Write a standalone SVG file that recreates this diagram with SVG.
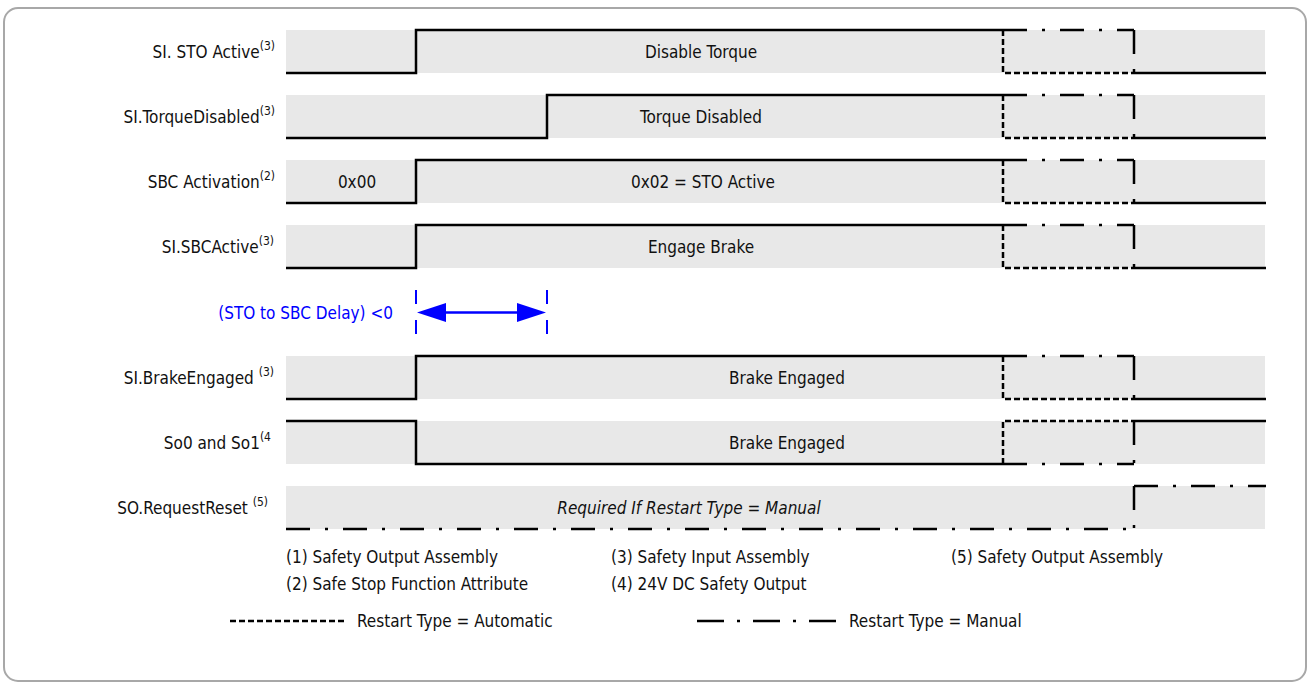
<svg xmlns="http://www.w3.org/2000/svg" width="1311" height="690" viewBox="0 0 1311 690">
<style>
.t{font-family:"Liberation Sans Narrow","DejaVu Sans Condensed","Liberation Sans",sans-serif;font-stretch:condensed;font-size:17px;fill:#111}
.sup{font-size:12px}
.band{fill:#e8e8e8}
.s{fill:none;stroke:#000;stroke-width:2.5}
.au{fill:none;stroke:#000;stroke-width:2.5;stroke-dasharray:6 3}
.ma{fill:none;stroke:#000;stroke-width:2.5;stroke-dasharray:24 15 3 15}
.blue{fill:#0000ff}
.bl{fill:none;stroke:#0000ff;stroke-width:2.5}
</style>
<rect x="4" y="8" width="1302" height="673" rx="14" fill="#fff" stroke="#a8a8a8" stroke-width="2"/>

<g id="row-sto-active">
<rect class="band" x="286" y="30" width="979" height="43"/>
<text class="t" x="275" y="58" text-anchor="end">SI. STO Active<tspan class="sup" dy="-8">(3)</tspan></text>
<text class="t" x="701" y="58" text-anchor="middle">Disable Torque</text>
<path class="s" d="M286,73H416V30H1003"/>
<path class="au" d="M1003,30V73H1134"/>
<path class="ma" d="M1003,30H1134"/>
<path class="ma" d="M1134,30V73"/>
<path class="s" d="M1134,73H1266"/>
</g>

<g id="row-torque-disabled">
<rect class="band" x="286" y="95" width="979" height="43"/>
<text class="t" x="275" y="123" text-anchor="end">SI.TorqueDisabled<tspan class="sup" dy="-8">(3)</tspan></text>
<text class="t" x="701" y="123" text-anchor="middle">Torque Disabled</text>
<path class="s" d="M286,138H547V95H1003"/>
<path class="au" d="M1003,95V138H1134"/>
<path class="ma" d="M1003,95H1134"/>
<path class="ma" d="M1134,95V138"/>
<path class="s" d="M1134,138H1266"/>
</g>

<g id="row-sbc-activation">
<rect class="band" x="286" y="160" width="979" height="43"/>
<text class="t" x="275" y="188" text-anchor="end">SBC Activation<tspan class="sup" dy="-8">(2)</tspan></text>
<text class="t" x="357" y="188" text-anchor="middle">0x00</text>
<text class="t" x="703" y="188" text-anchor="middle">0x02 = STO Active</text>
<path class="s" d="M286,203H416V160H1003"/>
<path class="au" d="M1003,160V203H1134"/>
<path class="ma" d="M1003,160H1134"/>
<path class="ma" d="M1134,160V203"/>
<path class="s" d="M1134,203H1266"/>
</g>

<g id="row-sbc-active">
<rect class="band" x="286" y="225" width="979" height="43"/>
<text class="t" x="274" y="253" text-anchor="end">SI.SBCActive<tspan class="sup" dy="-8">(3)</tspan></text>
<text class="t" x="701" y="253" text-anchor="middle">Engage Brake</text>
<path class="s" d="M286,268H416V225H1003"/>
<path class="au" d="M1003,225V268H1134"/>
<path class="ma" d="M1003,225H1134"/>
<path class="ma" d="M1134,225V268"/>
<path class="s" d="M1134,268H1266"/>
</g>

<g id="delay-label">
<text class="t blue" x="393" y="319" text-anchor="end">(STO to SBC Delay) &lt;0</text>
</g>

<g id="row-brake-engaged">
<rect class="band" x="286" y="356" width="979" height="43"/>
<text class="t" x="274" y="384" text-anchor="end">SI.BrakeEngaged <tspan class="sup" dy="-8">(3)</tspan></text>
<text class="t" x="787" y="384" text-anchor="middle">Brake Engaged</text>
<path class="s" d="M286,399H416V356H1003"/>
<path class="au" d="M1003,356V399H1134"/>
<path class="ma" d="M1003,356H1134"/>
<path class="ma" d="M1134,356V399"/>
<path class="s" d="M1134,399H1266"/>
</g>

<g id="row-so0-so1">
<rect class="band" x="286" y="421" width="979" height="43"/>
<text class="t" x="271" y="449" text-anchor="end">So0 and So1<tspan class="sup" dy="-8">(4</tspan></text>
<text class="t" x="787" y="449" text-anchor="middle">Brake Engaged</text>
<path class="s" d="M286,421H416V464H1003"/>
<path class="au" d="M1003,464V421H1134"/>
<path class="ma" d="M1003,464H1134"/>
<path class="ma" d="M1134,421V464"/>
<path class="s" d="M1134,421H1266"/>
</g>

<g id="row-request-reset">
<rect class="band" x="286" y="486" width="979" height="43"/>
<text class="t" x="268" y="514" text-anchor="end">SO.RequestReset <tspan class="sup" dy="-8">(5)</tspan></text>
<text class="t" x="689" y="514" text-anchor="middle" font-style="italic">Required If Restart Type = Manual</text>
<path class="ma" d="M286,529H1134"/>
<path class="ma" d="M1134,486V529"/>
<path class="ma" d="M1134,486H1266"/>
</g>

<g id="connectors">
<path d="M416,290V334M547,290V334" fill="none" stroke="#0000ff" stroke-width="2" stroke-dasharray="14 16"/>
<path class="bl" d="M440,312.5H523"/>
<polygon class="blue" points="417,312.5 446,303 446,322"/>
<polygon class="blue" points="546,312.5 517,303 517,322"/>
</g>

<g id="footnotes">
<text class="t" x="286" y="563">(1) Safety Output Assembly</text>
<text class="t" x="286" y="590">(2) Safe Stop Function Attribute</text>
<text class="t" x="611" y="563">(3) Safety Input Assembly</text>
<text class="t" x="611" y="590">(4) 24V DC Safety Output</text>
<text class="t" x="951" y="563">(5) Safety Output Assembly</text>
</g>

<g id="legend">
<path d="M230,621H345" fill="none" stroke="#000" stroke-width="2.5" stroke-dasharray="6 3"/>
<text class="t" x="357" y="627">Restart Type = Automatic</text>
<path d="M697,621H836" fill="none" stroke="#000" stroke-width="2.5" stroke-dasharray="27 13 3 13"/>
<text class="t" x="849" y="627">Restart Type = Manual</text>
</g>
</svg>
